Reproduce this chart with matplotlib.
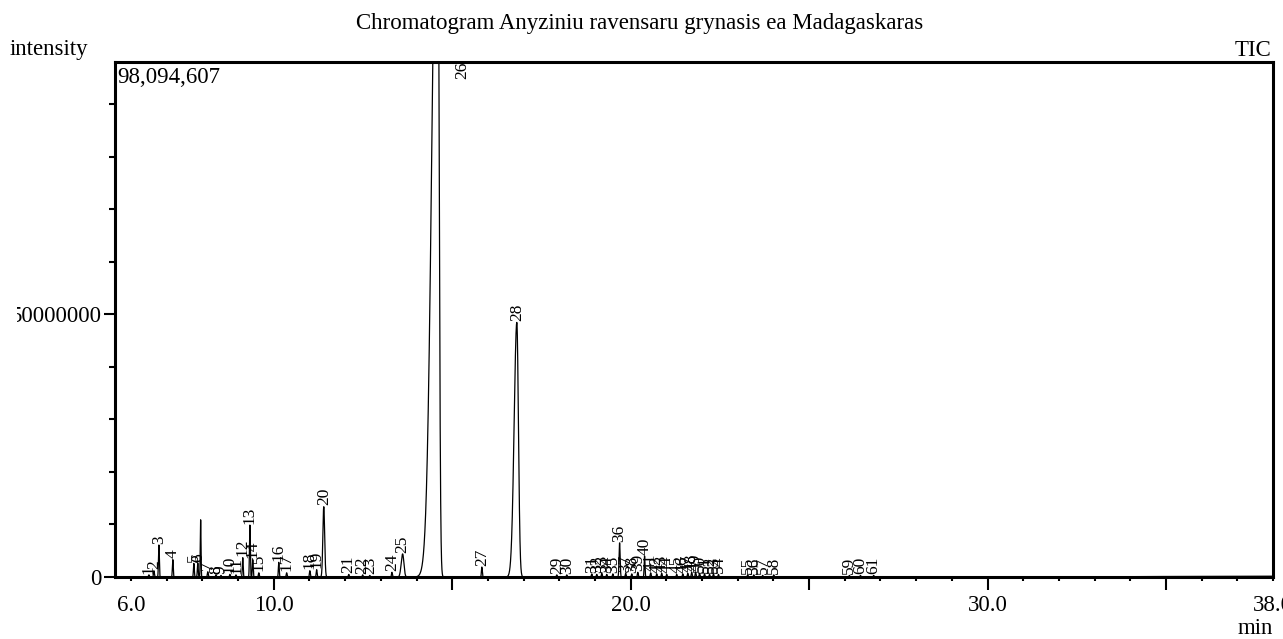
import numpy as np
import matplotlib
matplotlib.use("Agg")
import matplotlib.pyplot as plt
from matplotlib.transforms import Bbox

plt.rcParams['font.family'] = ['Liberation Serif', 'DejaVu Serif']

# ---- data ----
peak_labels = [str(i) for i in range(1, 62)]
peak_times = [6.50, 6.64, 6.78, 7.17, 7.76, 7.87, 8.15, 8.38, 8.52, 8.77,
              8.94, 9.13, 9.33, 9.41, 9.58, 10.14, 10.36, 11.01, 11.20, 11.40,
              12.10, 12.49, 12.69, 13.31, 13.61, 14.59, 15.83, 16.81, 17.93, 18.21,
              18.91, 19.05, 19.19, 19.33, 19.50, 19.69, 19.86, 20.03, 20.20, 20.39,
              20.56, 20.73, 20.87, 21.01, 21.29, 21.46, 21.60, 21.71, 21.82, 21.93,
              22.07, 22.21, 22.32, 22.46, 23.28, 23.45, 23.70, 24.01, 26.13, 26.44,
              26.81]
peak_heights = [0.4e6, 1.2e6, 6.1e6, 3.3e6, 2.6e6, 2.7e6, 1.0e6, 0.4e6, 0.3e6, 0.5e6,
                0.4e6, 3.7e6, 9.9e6, 3.3e6, 0.8e6, 2.8e6, 0.8e6, 1.2e6, 1.4e6, 13.4e6,
                0.5e6, 0.4e6, 0.3e6, 0.9e6, 4.4e6, 147e6, 1.9e6, 48.5e6, 0.4e6, 0.4e6,
                0.6e6, 0.5e6, 0.7e6, 0.5e6, 0.6e6, 6.5e6, 0.7e6, 0.6e6, 0.9e6, 4.0e6,
                0.8e6, 0.6e6, 0.7e6, 0.5e6, 0.5e6, 0.6e6, 0.7e6, 0.9e6, 0.9e6, 0.7e6,
                0.6e6, 0.5e6, 0.6e6, 0.5e6, 0.4e6, 0.4e6, 0.3e6, 0.4e6, 0.3e6, 0.3e6,
                0.3e6]
# left / right peak widths (sigma, minutes)
peak_sig_left = [0.012] * 61
peak_sig_right = [0.012] * 61
peak_sig_left[19], peak_sig_right[19] = 0.025, 0.025    # 20
peak_sig_left[24], peak_sig_right[24] = 0.04, 0.035     # 25
peak_sig_left[25], peak_sig_right[25] = 0.15, 0.04      # 26
peak_sig_left[27], peak_sig_right[27] = 0.075, 0.045    # 28
peak_sig_left[35], peak_sig_right[35] = 0.015, 0.015    # 36

# unlabeled spike
extra_times = [7.95]
extra_heights = [10.9e6]

baseline_t = [5.55, 32.0, 34.0, 38.0]
baseline_v = [0.0, 0.0, 0.08e6, 0.15e6]

x_min, x_max = 5.55, 38.0
y_max = 98094607

# ---- build trace ----
t = np.linspace(x_min, x_max, 30000)
y = np.interp(t, baseline_t, baseline_v)
for tc, h, sl, sr in zip(peak_times, peak_heights, peak_sig_left, peak_sig_right):
    s = np.where(t < tc, sl, sr)
    y = y + h * np.exp(-0.5 * ((t - tc) / s) ** 2)
for tc, h in zip(extra_times, extra_heights):
    y = y + h * np.exp(-0.5 * ((t - tc) / 0.01) ** 2)

fig = plt.figure(figsize=(12.83, 6.39), dpi=100)
ax = fig.add_axes([115 / 1283, 1 - 577 / 639, (1273 - 115) / 1283, (577 - 62) / 639])
ax.plot(t, y, color='black', lw=0.9)
ax.set_xlim(x_min, x_max)
ax.set_ylim(0, y_max)

for sp in ax.spines.values():
    sp.set_linewidth(2.2)

# labels
for lab, tc, h in zip(peak_labels, peak_times, peak_heights):
    if h > y_max:
        ax.text(tc + 0.7, y_max, lab, rotation=90, ha='center', va='top', fontsize=12.5)
    else:
        ax.text(tc, h + 0.25e6, lab, rotation=90, ha='center', va='bottom', fontsize=12.5)

# x ticks
ax.set_xticks([10, 15, 20, 25, 30, 35])
ax.set_xticklabels(['10.0', '', '20.0', '', '30.0', ''])
minor = list(range(6, 38)) + [38]
ax.set_xticks(minor, minor=True)
ax.set_xticklabels(['6.0'] + [''] * (len(minor) - 2) + ['38.0'], minor=True)
ax.tick_params(axis='x', which='major', length=9, width=1.5, pad=4, labelsize=16.5)
ax.tick_params(axis='x', which='minor', length=3, width=1.5, pad=10, labelsize=16.5)

# y ticks
ax.set_yticks([0, 50000000])
ax.set_yticklabels(['0', '50000000'])
ax.set_yticks(np.arange(10e6, 100e6, 10e6), minor=True)
ax.tick_params(axis='y', which='major', length=8, width=1.5, pad=2, labelsize=16.5)
ax.tick_params(axis='y', which='minor', length=4, width=1.5)
for lbl in ax.get_yticklabels():
    lbl.set_clip_box(Bbox([[17, 0], [1283, 639]]))
    lbl.set_clip_on(True)

ax.text(0.002, 0.99, '98,094,607', transform=ax.transAxes, ha='left', va='top', fontsize=16.5)

fig.text(640 / 1283, 1 - 23 / 639, 'Chromatogram Anyziniu ravensaru grynasis ea Madagaskaras',
         ha='center', va='center', fontsize=16.5)
fig.text(49 / 1283, 1 - 50 / 639, 'intensity', ha='center', va='center', fontsize=16.5)
fig.text(1253 / 1283, 1 - 50 / 639, 'TIC', ha='center', va='center', fontsize=16.5)
fig.text(1255 / 1283, 1 - 628 / 639, 'min', ha='center', va='center', fontsize=16.5)

fig.savefig('out.png', dpi=100)
